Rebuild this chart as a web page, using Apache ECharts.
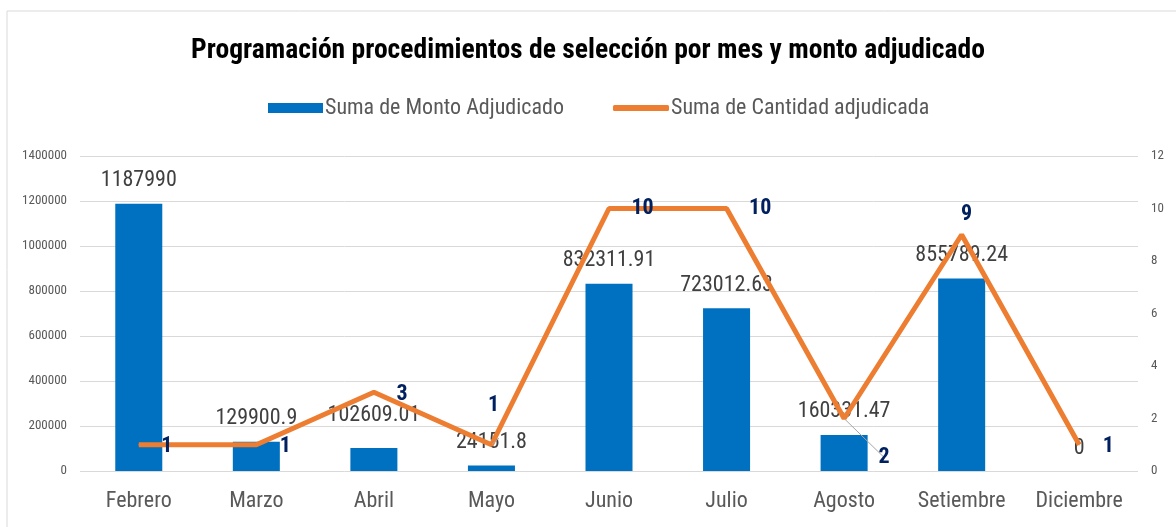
<!DOCTYPE html>
<html><head><meta charset="utf-8">
<script src="https://cdn.jsdelivr.net/npm/echarts@6/dist/echarts.min.js"></script>
<style>html,body{margin:0;padding:0;background:#fff}#c{width:1176px;height:527px}</style>
</head><body><div id="c"></div>
<script>
const categories = ['Febrero','Marzo','Abril','Mayo','Junio','Julio','Agosto','Setiembre','Diciembre'];
const montoAdjudicado = [1187990, 129900.9, 102609.01, 24151.8, 832311.91, 723012.63, 160331.47, 855789.24, 0];
const cantidadAdjudicada = [1, 1, 3, 1, 10, 10, 2, 9, 1];
const montoLabels = ['1187990','129900.9','102609.01','24151.8','832311.91','723012.63','160331.47','855789.24','0'];

const FONT = '"Liberation Sans Narrow","Arial Narrow","Roboto Condensed","Liberation Sans",Arial,sans-serif';
// label placement styles (not data)
const lineLabelPos = ['right','right','right','top','right','right','right','top','right'];
const lineLabelOffset = [[17,2],[18,2],[17,2],[2,-23],[17,0],[17,0],[29,39],[5,-4],[18,2]];
const lineLeader = [false,false,false,true,false,false,true,false,false];
const barLabelOffset = [[0,0],[0,0],[0,-9],[0,0],[0,0],[0,0],[0,0],[0,0],[0,0]];

const chart = echarts.init(document.getElementById('c'), null, {renderer:'canvas'});
chart.setOption({
  animation:false,
  backgroundColor:'#fff',
  graphic:[{type:'rect', shape:{x:7,y:11,width:1180,height:530}, style:{fill:'none',stroke:'#d9d9d9',lineWidth:1}, silent:true}],
  title:{text:'Programación procedimientos de selección por mes y monto adjudicado', left:'center', top:32,
    textStyle:{fontFamily:FONT, fontSize:27.6, fontWeight:'bold', color:'#000'}},
  legend:[
    {top:92, left:263, itemWidth:55, itemHeight:10, icon:'rect',
      textStyle:{fontFamily:FONT, fontSize:22, color:'#595959', padding:[0,0,0,-3]},
      data:['Suma de Monto Adjudicado']},
    {top:92, left:608, itemWidth:56, itemHeight:6, icon:'roundRect',
      textStyle:{fontFamily:FONT, fontSize:22, color:'#595959', padding:[0,0,0,-3]},
      data:['Suma de Cantidad adjudicada']}
  ],
  grid:{left:80, right:38, top:156, bottom:56, containLabel:false},
  xAxis:{type:'category', data:categories, axisLine:{show:false}, axisTick:{show:false},
    axisLabel:{fontFamily:FONT, fontSize:22, color:'#595959', margin:19}},
  yAxis:[
    {type:'value', min:0, max:1400000, interval:200000, axisLine:{show:false}, axisTick:{show:false},
      splitLine:{lineStyle:{color:'#d9d9d9', width:1}},
      axisLabel:{fontFamily:FONT, fontSize:13, color:'#595959', margin:13, formatter:v=>String(v)}},
    {type:'value', min:0, max:12, interval:2, axisLine:{show:false}, axisTick:{show:false},
      splitLine:{show:false},
      axisLabel:{fontFamily:FONT, fontSize:13, color:'#595959', margin:13}}
  ],
  series:[
    {name:'Suma de Monto Adjudicado', type:'bar', yAxisIndex:0, barWidth:'40%',
      itemStyle:{color:'#0070C0'},
      data: montoAdjudicado.map((v,i)=>({value:v, label:{offset:barLabelOffset[i]}})),
      label:{show:true, position:'top', distance:12, fontFamily:FONT, fontSize:22, color:'#404040',
        formatter:p=>montoLabels[p.dataIndex]}},
    {name:'Suma de Cantidad adjudicada', type:'line', yAxisIndex:1, symbol:'circle', symbolSize:1, showSymbol:true,
      lineStyle:{color:'#ED7D31', width:5}, itemStyle:{color:'#ED7D31'},
      data: cantidadAdjudicada.map((v,i)=>({value:v,
        label:{position:lineLabelPos[i], offset:lineLabelOffset[i]},
        labelLine:{show:lineLeader[i], lineStyle:{color:'#a6a6a6', width:1}}})),
      label:{show:true, fontFamily:FONT, fontSize:22, fontWeight:'bold', color:'#002060'}, z:3}
  ]
});
</script></body></html>
